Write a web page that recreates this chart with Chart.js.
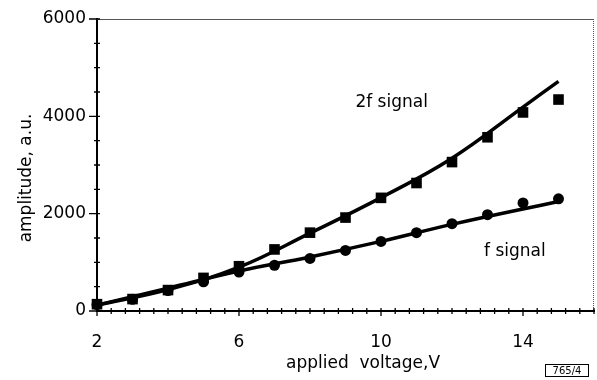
<!DOCTYPE html>
<html>
<head>
<meta charset="utf-8">
<script src="https://cdn.jsdelivr.net/npm/chart.js@4"></script>
<style>
  body { margin: 0; background: #fff; }
</style>
</head>
<body>
<canvas id="ampChart" width="597" height="380"></canvas>
<script>
// applied voltage of each measurement (V)
const volts = [2, 3, 4, 5, 6, 7, 8, 9, 10, 11, 12, 13, 14, 15];
// measured amplitudes (a.u.)
const amp2f = [140, 245, 430, 680, 920, 1265, 1610, 1920, 2325, 2630, 3060, 3570, 4080, 4345];
const ampF  = [130, 240, 420, 600, 800, 940, 1080, 1245, 1430, 1610, 1795, 1980, 2220, 2305];
// fitted curves through the measurements
const fitVolts2f = [2, 4, 6, 8, 10, 12, 14, 15];
const fit2f      = [120, 440, 900, 1600, 2330, 3140, 4190, 4720];
const fitVoltsF  = [2, 4, 6, 8, 10, 12, 15];
const fitF       = [120, 470, 820, 1110, 1430, 1780, 2250];
// labelled ticks
const xLabels = [2, 6, 10, 14];
const yLabels = [0, 2000, 4000, 6000];

const FONT = 'DejaVu Sans';
Chart.defaults.font.family = FONT;
Chart.defaults.font.size = 17;
Chart.defaults.color = '#000';

const pts = (xs, ys) => xs.map((x, i) => ({ x: x, y: ys[i] }));
const isLabelled = (list, v) => list.some(l => Math.abs(l - v) < 1e-6);

// frame, crossing tick marks, axis titles and curve captions
const decor = {
  id: 'decor',
  afterDraw(chart) {
    const { ctx, chartArea: a, scales: { x, y } } = chart;
    ctx.save();

    // top and right edges of the frame
    ctx.lineWidth = 1;
    ctx.strokeStyle = '#555';
    ctx.beginPath();
    ctx.moveTo(a.left, a.top + 0.5);
    ctx.lineTo(a.right, a.top + 0.5);
    ctx.stroke();
    ctx.setLineDash([1, 1]);
    ctx.beginPath();
    ctx.moveTo(a.right - 0.5, a.top);
    ctx.lineTo(a.right - 0.5, a.bottom);
    ctx.stroke();
    ctx.setLineDash([]);

    // tick marks cross the axis lines
    ctx.strokeStyle = '#000';
    ctx.lineWidth = 1.3;
    ctx.beginPath();
    x.ticks.forEach(t => {
      const px = x.getPixelForValue(t.value);
      const major = isLabelled(xLabels, t.value);
      ctx.moveTo(px, a.bottom - 3);
      ctx.lineTo(px, a.bottom + (major ? 5 : 3));
    });
    y.ticks.forEach(t => {
      const py = y.getPixelForValue(t.value);
      const major = isLabelled(yLabels, t.value);
      ctx.moveTo(a.left - (major ? 8 : 3), py);
      ctx.lineTo(a.left + 3, py);
    });
    ctx.stroke();

    ctx.fillStyle = '#000';
    ctx.font = '17px "' + FONT + '"';
    ctx.textAlign = 'center';
    ctx.textBaseline = 'middle';

    // axis titles
    ctx.fillText('applied  voltage,V', 363, 364);
    ctx.save();
    ctx.translate(27, 178);
    ctx.rotate(-Math.PI / 2);
    ctx.fillText('amplitude, a.u.', 0, 0);
    ctx.restore();

    // curve captions
    ctx.fillText('2f signal', x.getPixelForValue(10.3), y.getPixelForValue(4280));
    ctx.fillText('f signal', x.getPixelForValue(13.77), y.getPixelForValue(1220));

    // figure number
    ctx.font = '10px "' + FONT + '"';
    ctx.lineWidth = 1;
    ctx.strokeRect(545.5, 364.5, 43, 12);
    ctx.fillText('765/4', 567, 371);
    ctx.restore();
  }
};

new Chart(document.getElementById('ampChart'), {
  type: 'scatter',
  data: {
    datasets: [
      {
        label: '2f fit',
        data: pts(fitVolts2f, fit2f),
        showLine: true,
        pointRadius: 0,
        borderColor: '#000',
        borderWidth: 3.5,
        tension: 0.4,
        clip: false
      },
      {
        label: 'f fit',
        data: pts(fitVoltsF, fitF),
        showLine: true,
        pointRadius: 0,
        borderColor: '#000',
        borderWidth: 3.5,
        tension: 0.4,
        clip: false
      },
      {
        label: '2f signal',
        data: pts(volts, amp2f),
        pointStyle: 'rect',
        pointRadius: 7.5,
        backgroundColor: '#000',
        borderColor: '#000',
        borderWidth: 0,
        clip: false
      },
      {
        label: 'f signal',
        data: pts(volts, ampF),
        pointStyle: 'circle',
        pointRadius: 5.5,
        backgroundColor: '#000',
        borderColor: '#000',
        borderWidth: 0,
        clip: false
      }
    ]
  },
  options: {
    responsive: false,
    animation: false,
    layout: { autoPadding: false, padding: { top: 19, right: 3, left: 0, bottom: 0 } },
    plugins: {
      legend: { display: false },
      tooltip: { enabled: false }
    },
    scales: {
      x: {
        type: 'linear',
        min: 2,
        max: 16,
        grid: { display: false, drawTicks: false },
        border: { display: true, color: '#000', width: 2 },
        ticks: {
          stepSize: 0.4,
          autoSkip: false,
          maxRotation: 0,
          padding: 21,
          callback: v => isLabelled(xLabels, v) ? Math.round(v) : ''
        },
        afterFit: s => { s.height = 69; s.paddingLeft = 0; s.paddingRight = 0; }
      },
      y: {
        min: 0,
        max: 6000,
        grid: { display: false, drawTicks: false },
        border: { display: true, color: '#000', width: 2 },
        ticks: {
          stepSize: 500,
          autoSkip: false,
          padding: 11,
          callback: v => isLabelled(yLabels, v) ? v : ''
        },
        afterFit: s => { s.width = 97; s.paddingTop = 0; s.paddingBottom = 0; }
      }
    }
  },
  plugins: [decor]
});
</script>
</body>
</html>
